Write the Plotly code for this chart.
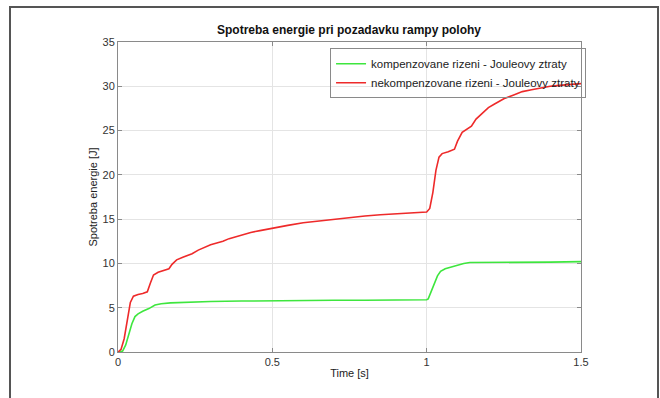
import plotly.graph_objects as go

title_text = "Spotreba energie pri pozadavku rampy polohy"
x_label = "Time [s]"
y_label = "Spotreba energie [J]"
name_green = "kompenzovane rizeni - Jouleovy ztraty"
name_red = "nekompenzovane rizeni - Jouleovy ztraty"

t_red = [0, 0.01, 0.02, 0.03, 0.04, 0.05, 0.065, 0.08, 0.095, 0.105, 0.115, 0.13, 0.15,
         0.165, 0.175, 0.19, 0.21, 0.225, 0.24, 0.26, 0.28, 0.3, 0.32, 0.34, 0.36, 0.38,
         0.40, 0.43, 0.46, 0.5, 0.55, 0.6, 0.65, 0.7, 0.75, 0.8, 0.85, 0.9, 0.95, 1.0,
         1.01, 1.02, 1.03, 1.04, 1.05, 1.07, 1.09, 1.1, 1.115, 1.13, 1.145, 1.16, 1.18,
         1.2, 1.22, 1.25, 1.28, 1.31, 1.34, 1.37, 1.4, 1.43, 1.46, 1.5]
e_red = [0, 0.3, 1.5, 3.8, 5.6, 6.3, 6.5, 6.6, 6.8, 7.8, 8.7, 9.0, 9.2,
         9.4, 9.9, 10.4, 10.7, 10.9, 11.1, 11.5, 11.8, 12.1, 12.3, 12.5, 12.8, 13.0,
         13.2, 13.5, 13.7, 14.0, 14.3, 14.6, 14.8, 15.0, 15.2, 15.35, 15.5, 15.6, 15.7, 15.8,
         16.2, 18.0, 20.5, 22.0, 22.4, 22.6, 22.9, 23.8, 24.8, 25.2, 25.5, 26.3, 27.0,
         27.6, 28.0, 28.6, 29.0, 29.4, 29.6, 29.8, 30.0, 30.1, 30.2, 30.3]

t_green = [0, 0.015, 0.025, 0.035, 0.045, 0.055, 0.065, 0.08, 0.1, 0.12, 0.14, 0.17, 0.2,
           0.3, 0.4, 0.5, 0.6, 0.7, 0.8, 0.9, 1.0, 1.005, 1.015, 1.025, 1.035, 1.045,
           1.06, 1.08, 1.1, 1.12, 1.14, 1.2, 1.3, 1.4, 1.5]
e_green = [0, 0.1, 0.8, 2.0, 3.2, 4.0, 4.3, 4.6, 4.9, 5.3, 5.45, 5.55, 5.6,
           5.7, 5.75, 5.8, 5.8, 5.85, 5.85, 5.9, 5.9, 6.0, 6.8, 7.8, 8.6, 9.1,
           9.4, 9.6, 9.8, 10.0, 10.1, 10.1, 10.15, 10.15, 10.2]

x_ticks = [0, 0.5, 1, 1.5]
x_tick_text = ["0", "0.5", "1", "1.5"]
y_ticks = [0, 5, 10, 15, 20, 25, 30, 35]

font_family = "Liberation Sans, Arial, sans-serif"

fig = go.Figure()
fig.add_trace(go.Scatter(x=t_green, y=e_green, mode="lines", name=name_green,
                         line=dict(color="#3ee63e", width=1.6)))
fig.add_trace(go.Scatter(x=t_red, y=e_red, mode="lines", name=name_red,
                         line=dict(color="#ee2a2a", width=1.6)))

axis_common = dict(showline=True, linecolor="#8a8a8a", linewidth=1, mirror="ticks",
                   ticks="inside", ticklen=4, tickcolor="#8a8a8a",
                   showgrid=True, gridcolor="#e4e4e4", gridwidth=1, zeroline=False,
                   tickfont=dict(family=font_family, size=11, color="#333333"))

fig.update_xaxes(range=[0, 1.5], tickvals=x_ticks, ticktext=x_tick_text,
                 title=dict(text=x_label, font=dict(family=font_family, size=11, color="#222222"),
                            standoff=2),
                 **axis_common)
fig.update_yaxes(range=[0, 35], tickvals=y_ticks,
                 title=dict(text=y_label, font=dict(family=font_family, size=11, color="#222222"),
                            standoff=2),
                 **axis_common)

fig.update_layout(
    width=660, height=398,
    margin=dict(l=118, r=79, t=42, b=46),
    paper_bgcolor="white", plot_bgcolor="white",
    title=dict(text="<b>" + title_text + "</b>", x=349 / 660, xanchor="center",
               y=1 - 30 / 398, yanchor="middle",
               font=dict(family=font_family, size=12, color="#111111")),
    legend=dict(x=0.458, y=0.98, xanchor="left", yanchor="top",
                bgcolor="rgba(255,255,255,0)", bordercolor="#8a8a8a", borderwidth=1,
                font=dict(family=font_family, size=11.5, color="#222222"),
                tracegroupgap=0, itemwidth=30),
    showlegend=True,
    shapes=[dict(type="rect", xref="paper", yref="paper",
                 x0=(10 - 118) / 463, x1=(658 - 118) / 463,
                 y0=-0.2, y1=(352 - 7) / 310,
                 line=dict(color="#555555", width=2), fillcolor="rgba(0,0,0,0)", layer="below")],
)

fig.write_html("out.html", config={"displayModeBar": False},
               post_script="document.body.style.margin='0';document.body.style.overflow='hidden';")
